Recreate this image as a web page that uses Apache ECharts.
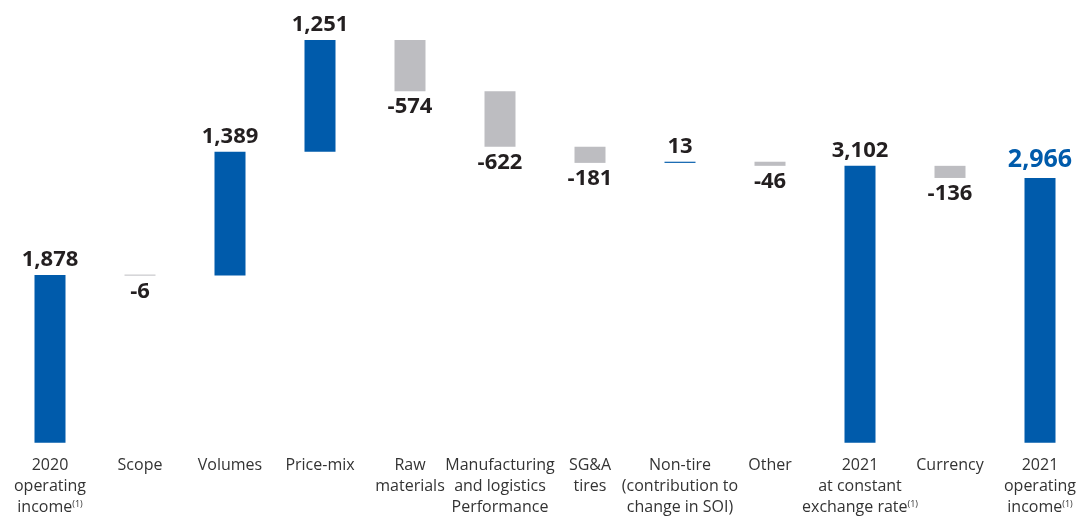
<!DOCTYPE html>
<html>
<head>
<meta charset="utf-8">
<script src="https://cdn.jsdelivr.net/npm/echarts@6/dist/echarts.min.js"></script>
<style>html,body{margin:0;padding:0;background:#fff;}#c{width:1085px;height:520px;}</style>
</head>
<body>
<div id="c"></div>
<script>
var categories = [
  '2020\noperating\nincome{s|(1)}',
  'Scope',
  'Volumes',
  'Price-mix',
  'Raw\nmaterials',
  'Manufacturing\nand logistics\nPerformance',
  'SG&A\ntires',
  'Non-tire\n(contribution to\nchange in SOI)',
  'Other',
  '2021\nat constant\nexchange rate{s|(1)}',
  'Currency',
  '2021\noperating\nincome{s|(1)}'
];
var values = [1878, -6, 1389, 1251, -574, -622, -181, 13, -46, 3102, -136, 2966];
var isTotal = [true, false, false, false, false, false, false, false, false, true, false, true];

var BLUE = '#005bab', GRAY = '#bdbdc1', TEXT = '#231f20';
var baseData = [], barData = [];
var cum = 0;
for (var i = 0; i < values.length; i++) {
  var v = values[i], base, h;
  if (isTotal[i]) { base = 0; h = v; cum = v; }
  else if (v >= 0) { base = cum; h = v; cum += v; }
  else { base = cum + v; h = -v; cum += v; }
  var last = i === values.length - 1;
  baseData.push(base);
  barData.push({
    value: h,
    itemStyle: { color: (isTotal[i] || v >= 0) ? BLUE : GRAY },
    label: {
      show: true,
      position: v >= 0 ? 'top' : 'bottom',
      distance: v >= 0 ? (last ? 6 : 4) : 5,
      formatter: v.toLocaleString('en-US'),
      color: last ? BLUE : TEXT,
      fontSize: last ? 25 : 22,
      fontWeight: 'bold',
      fontFamily: 'Open Sans'
    }
  });
}

var chart = echarts.init(document.getElementById('c'), null, { renderer: 'canvas' });
chart.setOption({
  animation: false,
  backgroundColor: '#fff',
  grid: { left: 5, right: -5, top: 0, bottom: 77.3, containLabel: false },
  xAxis: {
    type: 'category',
    data: categories,
    axisLine: { show: false },
    axisTick: { show: false },
    axisLabel: {
      interval: 0,
      margin: 12,
      color: '#333333',
      fontSize: 16,
      lineHeight: 21,
      fontFamily: 'Open Sans',
      verticalAlign: 'top',
      rich: {
        s: { fontSize: 9, lineHeight: 21, padding: [0, 0, 6, 0], color: '#333333', fontFamily: 'Open Sans' }
      }
    }
  },
  yAxis: {
    type: 'value', min: 0, max: 4960, show: false,
    splitLine: { show: false }
  },
  series: [
    {
      type: 'bar', stack: 'w', data: baseData, barWidth: 31,
      itemStyle: { color: 'transparent' }, silent: true, label: { show: false }
    },
    {
      type: 'bar', stack: 'w', data: barData, barWidth: 31, barMinHeight: 1
    }
  ]
});
</script>
</body>
</html>
